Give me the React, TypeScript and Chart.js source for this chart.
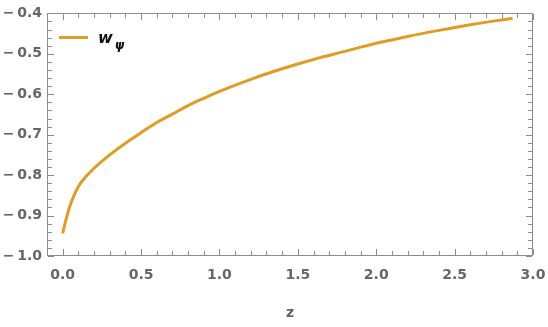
import React, { useEffect, useRef } from "react";
import { Chart, registerables } from "chart.js";

Chart.register(...registerables);

const Z_VALUES = [0, 0.02, 0.05, 0.1, 0.15, 0.2, 0.3, 0.4, 0.5, 0.6, 0.7, 0.8, 0.9, 1.0, 1.2, 1.4, 1.6, 1.8, 2.0, 2.2, 2.4, 2.6, 2.87];
const W_VALUES = [-0.944, -0.912, -0.872, -0.828, -0.803, -0.783, -0.75, -0.721, -0.695, -0.67, -0.649, -0.628, -0.61, -0.593, -0.563, -0.537, -0.514, -0.494, -0.474, -0.457, -0.442, -0.428, -0.412];
const X_TICKS = [0, 0.5, 1.0, 1.5, 2.0, 2.5, 3.0];
const Y_TICKS = [-1.0, -0.9, -0.8, -0.7, -0.6, -0.5, -0.4];
const X_RANGE = [-0.1, 3.0];
const Y_RANGE = [-1.0, -0.4];
const SERIES_LABEL = "w";
const SERIES_SUB = "ψ";
const X_TITLE = "z";

const LINE_COLOR = "#E09C24";
const AXIS_COLOR = "#8c8c8c";
const LABEL_COLOR = "#666666";
const FONT = "'DejaVu Sans'";

const framePlugin = {
  id: "frameTicks",
  afterDraw(chart: any) {
    const { ctx, chartArea } = chart;
    const xs = chart.scales.x;
    const ys = chart.scales.y;
    const L = Math.round(chartArea.left);
    const R = Math.round(chartArea.right) - 1;
    const T = Math.round(chartArea.top);
    const B = Math.round(chartArea.bottom) - 1;
    ctx.save();
    ctx.fillStyle = AXIS_COLOR;
    ctx.fillRect(L, T, R - L + 1, 1);
    ctx.fillRect(L, B, R - L + 1, 1);
    ctx.fillRect(L, T, 1, B - T + 1);
    ctx.fillRect(R, T, 1, B - T + 1);
    for (let i = 0; i <= 30; i++) {
      const v = i / 10;
      const len = i % 5 === 0 ? 6 : 4;
      const px = Math.round(xs.getPixelForValue(v));
      ctx.fillRect(px, B - len, 1, len);
      ctx.fillRect(px, T + 1, 1, len);
    }
    for (let i = 0; i <= 30; i++) {
      const v = -1 + i * 0.02;
      const len = i % 5 === 0 ? 6 : 4;
      const py = Math.round(ys.getPixelForValue(v));
      ctx.fillRect(L + 1, py, len, 1);
      ctx.fillRect(R - len, py, len, 1);
    }
    ctx.strokeStyle = LINE_COLOR;
    ctx.lineWidth = 3;
    ctx.beginPath();
    ctx.moveTo(59, 37.5);
    ctx.lineTo(88, 37.5);
    ctx.stroke();
    ctx.fillStyle = "#111111";
    ctx.textBaseline = "alphabetic";
    ctx.font = "italic bold 16px " + FONT;
    ctx.fillText(SERIES_LABEL, 98, 43);
    const w = ctx.measureText(SERIES_LABEL).width;
    ctx.font = "italic bold 12px " + FONT;
    ctx.fillText(SERIES_SUB, 98 + w + 2, 49);
    ctx.restore();
  },
};

export default function App() {
  const ref = useRef<HTMLCanvasElement | null>(null);
  useEffect(() => {
    if (!ref.current) return;
    const chart = new Chart(ref.current, {
      type: "line",
      data: {
        datasets: [
          {
            label: SERIES_LABEL + SERIES_SUB,
            data: Z_VALUES.map((z, i) => ({ x: z, y: W_VALUES[i] })),
            borderColor: LINE_COLOR,
            borderWidth: 3,
            pointRadius: 0,
            fill: false,
            cubicInterpolationMode: "monotone",
          },
        ],
      },
      options: {
        responsive: false,
        animation: false,
        layout: { padding: { left: 0, right: 15, top: 13, bottom: 0 } },
        plugins: { legend: { display: false }, tooltip: { enabled: false } },
        scales: {
          x: {
            type: "linear",
            min: X_RANGE[0],
            max: X_RANGE[1],
            grid: { display: false, drawTicks: false },
            border: { display: false },
            afterBuildTicks: (s: any) => {
              s.ticks = X_TICKS.map((v) => ({ value: v }));
            },
            afterFit: (s: any) => {
              s.height = 71;
            },
            ticks: {
              padding: 0,
              color: LABEL_COLOR,
              font: { family: FONT, size: 14, weight: "bold", lineHeight: 2.75 },
              callback: (v: any) => Number(v).toFixed(1),
              maxRotation: 0,
              autoSkip: false,
            },
            title: {
              display: true,
              text: X_TITLE,
              color: LABEL_COLOR,
              font: { family: FONT, size: 14, weight: "bold" },
              padding: { top: 4, bottom: 5 },
            },
          },
          y: {
            type: "linear",
            min: Y_RANGE[0],
            max: Y_RANGE[1],
            grid: { display: false, drawTicks: false },
            border: { display: false },
            afterBuildTicks: (s: any) => {
              s.ticks = Y_TICKS.map((v) => ({ value: v }));
            },
            afterFit: (s: any) => {
              s.width = 47;
            },
            ticks: {
              padding: 5,
              color: LABEL_COLOR,
              font: { family: FONT, size: 14, weight: "bold" },
              callback: (v: any) => {
                const n = Number(v);
                return n < 0 ? "\u2212\u2009" + Math.abs(n).toFixed(1) : n.toFixed(1);
              },
              autoSkip: false,
            },
          },
        },
      },
      plugins: [framePlugin],
    });
    return () => chart.destroy();
  }, []);
  return (
    <div style={{ position: "fixed", left: 0, top: 0, width: 548, height: 327, background: "#fff" }}>
      <canvas ref={ref} width={548} height={327} style={{ display: "block" }} />
    </div>
  );
}
